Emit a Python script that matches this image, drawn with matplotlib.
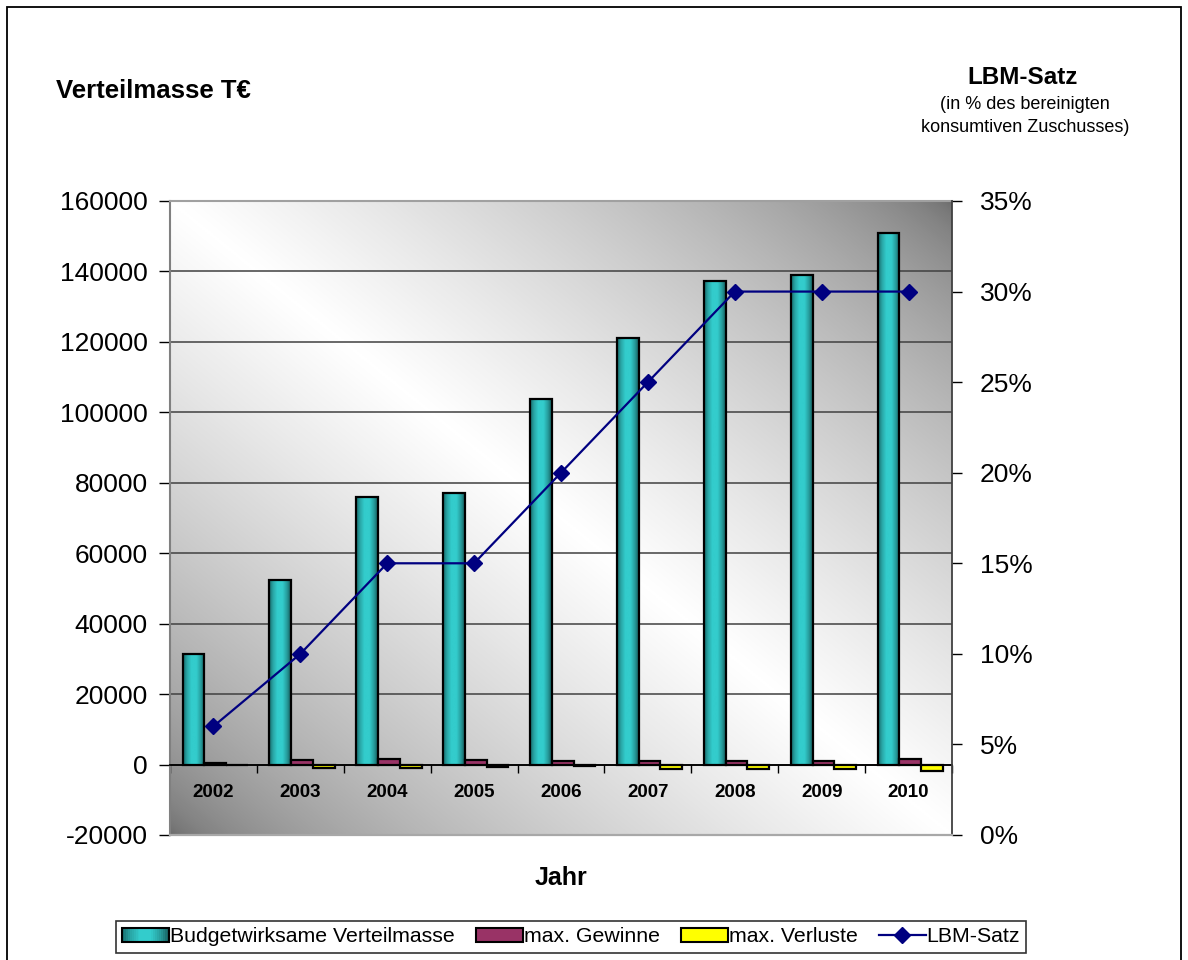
import numpy as np
import matplotlib
matplotlib.use("Agg")
import matplotlib.pyplot as plt
from matplotlib.colors import LinearSegmentedColormap
from matplotlib.patches import Rectangle, Patch
from matplotlib.lines import Line2D
from matplotlib.legend_handler import HandlerPatch
from matplotlib.ticker import FuncFormatter, MultipleLocator

plt.rcParams['font.family'] = ['Liberation Sans', 'DejaVu Sans']

# Verteilmasse in T€ und LBM-Satz je Jahr
years = ['2002', '2003', '2004', '2005', '2006', '2007', '2008', '2009', '2010']
verteilmasse = [31500, 52500, 76000, 77000, 103800, 121000, 137300, 139000, 151000]
max_gewinne = [500, 1200, 1700, 1200, 1000, 1100, 1100, 1100, 1600]
max_verluste = [-200, -1100, -1100, -600, -500, -1300, -1200, -1200, -1800]
lbm_satz = [0.06, 0.10, 0.15, 0.15, 0.20, 0.25, 0.30, 0.30, 0.30]

left_ticks = list(range(-20000, 160001, 20000))
right_ticks = [0.0, 0.05, 0.10, 0.15, 0.20, 0.25, 0.30, 0.35]

TEAL = LinearSegmentedColormap.from_list('teal', [
    (0.0, '#176a6a'), (0.18, '#29a6a6'), (0.38, '#33cccc'),
    (0.62, '#33cccc'), (0.82, '#279e9e'), (1.0, '#155e5e')])


class GradientHandler(HandlerPatch):
    """legend key drawn as vertical stripes of the teal gradient"""
    def create_artists(self, legend, orig_handle, xdescent, ydescent,
                       width, height, fontsize, trans):
        n = 24
        arts = []
        for i in range(n):
            r = Rectangle((-xdescent + width * i / n, -ydescent), width / n + 0.3, height,
                          facecolor=TEAL((i + 0.5) / n), edgecolor='none', transform=trans)
            arts.append(r)
        arts.append(Rectangle((-xdescent, -ydescent), width, height, facecolor='none',
                              edgecolor='black', lw=1.5, transform=trans))
        return arts


fig = plt.figure(figsize=(11.88, 9.6), dpi=100)
ax = fig.add_axes([170 / 1188, 1 - 835 / 960, 782 / 1188, 634 / 960])
ax2 = ax.twinx()

# diagonal grey-white-grey background of the plot area
xx, yy = np.meshgrid(np.linspace(0, 1, 300), np.linspace(0, 1, 300))
t = (xx + yy) / 2
v = (1 - np.abs(2 * t - 1)) ** 0.6
bg = 0.42 + 0.58 * v
ax.imshow(bg, extent=[0, 1, 0, 1], transform=ax.transAxes, cmap='gray',
          vmin=0, vmax=1, aspect='auto', origin='lower', zorder=0,
          interpolation='bicubic')

x = np.arange(len(years))
w = 0.25

# teal bars with cylinder shading
bars = ax.bar(x - w + 0.02, verteilmasse, w, color='#33cccc', edgecolor='none', zorder=3)
grad = np.linspace(0, 1, 64).reshape(1, -1)
for b in bars:
    im = ax.imshow(grad, cmap=TEAL, aspect='auto', zorder=3.1,
                   extent=(b.get_x(), b.get_x() + b.get_width(), 0, b.get_height()))
    im.set_clip_path(b)
ax.bar(x - w + 0.02, verteilmasse, w, facecolor='none', edgecolor='black', lw=1.6, zorder=3.2)
ax.bar(x + 0.02, max_gewinne, w, color='#993366', edgecolor='black', lw=1.6, zorder=3.2)
ax.bar(x + w + 0.02, max_verluste, w, color='#ffff00', edgecolor='black', lw=1.6, zorder=3.2)

ax.set_xlim(-0.5, len(years) - 0.5)
ax.set_ylim(left_ticks[0], left_ticks[-1])
ax.set_yticks(left_ticks)
ax.yaxis.set_major_formatter(FuncFormatter(lambda val, p: '%d' % val))
for val in left_ticks[1:-1]:
    ax.axhline(val, color='#404040', lw=1.1, zorder=1)

# category axis sits on the zero line
ax.spines['bottom'].set_position(('data', 0))
ax.spines['bottom'].set_color('black')
ax.spines['bottom'].set_linewidth(1.3)
ax.spines['bottom'].set_zorder(4)
ax.spines['left'].set_color('#808080')
ax.spines['left'].set_linewidth(1.5)
ax.spines['top'].set_color('#a0a0a0')
ax.spines['top'].set_linewidth(1.5)
ax.spines['right'].set_visible(False)
ax.set_xticks(x)
ax.set_xticklabels(years, fontsize=13.5, fontweight='bold')
ax.xaxis.set_minor_locator(MultipleLocator(1, offset=0.5))
ax.tick_params(axis='x', which='major', length=0, pad=14)
ax.tick_params(axis='x', which='minor', length=6, width=1, color='black', direction='out')
ax.tick_params(axis='y', labelsize=19, length=8, width=1, color='black', pad=8)

ax2.plot(x, lbm_satz, color='#000080', lw=1.6, marker='D', markersize=8.5, zorder=5)
ax2.set_ylim(right_ticks[0], right_ticks[-1])
ax2.set_yticks(right_ticks)
ax2.yaxis.set_major_formatter(FuncFormatter(lambda val, p: '%d%%' % round(val * 100)))
ax2.tick_params(axis='y', labelsize=19, length=7, width=1, color='black', pad=13)
for s in ('left', 'top'):
    ax2.spines[s].set_visible(False)
ax2.spines['bottom'].set_color('#a8a8a8')
ax2.spines['bottom'].set_linewidth(1.6)
ax2.spines['right'].set_color('#404040')
ax2.spines['right'].set_linewidth(1.3)

# axis titles
fig.text(56 / 1188, 1 - 91 / 960, 'Verteilmasse T€', fontsize=18.5, fontweight='bold',
         ha='left', va='center')
fig.text(1023 / 1188, 1 - 77 / 960, 'LBM-Satz', fontsize=17.5, fontweight='bold',
         ha='center', va='center')
fig.text(1025 / 1188, 1 - 116 / 960, '(in % des bereinigten\nkonsumtiven Zuschusses)',
         fontsize=13, ha='center', va='center', linespacing=1.45)
fig.text(561 / 1188, 1 - 878 / 960, 'Jahr', fontsize=18, fontweight='bold',
         ha='center', va='center')

# outer chart frame
fig.add_artist(Rectangle((7 / 1188, -0.02), 1174 / 1188, 1.02 - 7 / 960, transform=fig.transFigure,
                         facecolor='none', edgecolor='black', lw=1.3, clip_on=False))

handles = [Patch(facecolor='#33cccc', edgecolor='black'),
           Patch(facecolor='#993366', edgecolor='black', lw=1.5),
           Patch(facecolor='#ffff00', edgecolor='black', lw=1.5),
           Line2D([], [], color='#000080', lw=1.6, marker='D', markersize=8)]
labels = ['Budgetwirksame Verteilmasse', 'max. Gewinne', 'max. Verluste', 'LBM-Satz']
leg = fig.legend(handles, labels, loc='center', bbox_to_anchor=(571 / 1188, 1 - 937 / 960),
                 ncol=4, fontsize=15.3, frameon=True, fancybox=False, edgecolor='black',
                 handlelength=2.2, handleheight=0.6, handletextpad=0.05,
                 columnspacing=1.0, borderpad=0.3, borderaxespad=0,
                 handler_map={handles[0]: GradientHandler()})
leg.get_frame().set_linewidth(1.2)

fig.savefig('out.png', dpi=100)
